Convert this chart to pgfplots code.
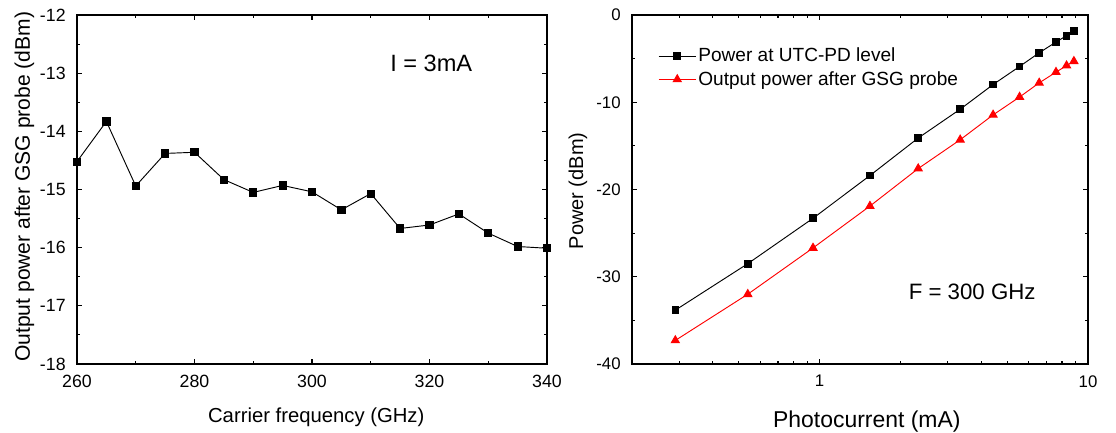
\documentclass[border=0pt]{standalone}
\usepackage{pgfplots}
\pgfplotsset{compat=1.18}
\usepackage{fontspec}
\setmainfont{Liberation Sans}
\definecolor{pred}{RGB}{255,0,0}
\begin{document}
\begin{tikzpicture}
\useasboundingbox (0,0) rectangle (837pt,324pt);
\pgfplotsset{
  common/.style={
    scale only axis,
    axis line style={line width=0.9pt},
    every tick/.style={black, line width=0.8pt},
    tick align=inside,
    major tick length=4pt, minor tick length=2.4pt,
    /pgf/number format/assume math mode=true,
    clip=false,
    xticklabel style={yshift=-5pt},
    yticklabel style={xshift=-5pt},
  }
}
\begin{axis}[common,
  at={(57.75pt,51pt)}, anchor=south west,
  width=352.5pt, height=261.75pt,
  xmin=260, xmax=340, ymin=-18, ymax=-12,
  xtick={260,280,...,340}, ytick={-18,-17,...,-12},
  minor x tick num=1, minor y tick num=1,
  tick label style={font=\fontsize{13.3}{14}\selectfont},
  xlabel={Carrier frequency (GHz)},
  xlabel style={font=\fontsize{15.2}{16}\selectfont, at={(axis description cs:0.509,-0.169)}, anchor=base},
  ylabel={Output power after GSG probe (dBm)},
  ylabel style={font=\fontsize{15.8}{16}\selectfont, at={(axis description cs:-0.1,0.508)}, anchor=base},
]
\addplot[black, line width=0.7pt, mark=square*, mark size=2.7pt] coordinates {
(260,-14.52) (265,-13.83) (270,-14.94) (275,-14.38) (280,-14.36) (285,-14.83)
(290,-15.05) (295,-14.93) (300,-15.04) (305,-15.35) (310,-15.07) (315,-15.67)
(320,-15.61) (325,-15.42) (330,-15.75) (335,-15.98) (340,-16.01)};
\node[font=\fontsize{17.7}{18}\selectfont] at (axis cs:320.3,-12.83) {I = 3mA};
\end{axis}
\begin{axis}[common,
  at={(474pt,51pt)}, anchor=south west,
  width=342pt, height=261.75pt,
  xmode=log, xmin=0.2, xmax=10, ymin=-40, ymax=0,
  xtick={1,10}, xticklabels={1,10},
  minor xtick={0.2,0.3,0.4,0.5,0.6,0.7,0.8,0.9,2,3,4,5,6,7,8,9},
  ytick={-40,-30,...,0}, minor y tick num=1,
  tick label style={font=\fontsize{12.6}{13}\selectfont},
  xlabel={Photocurrent (mA)},
  xlabel style={font=\fontsize{17.2}{18}\selectfont, at={(axis description cs:0.515,-0.181)}, anchor=base},
  ylabel={Power (dBm)},
  ylabel style={font=\fontsize{15}{16}\selectfont, at={(axis description cs:-0.107,0.496)}, anchor=base},
  legend style={at={(axis description cs:0.057,0.912)}, anchor=north west, draw=none, fill=none,
    font=\fontsize{14.3}{15}\selectfont, inner sep=0pt, row sep=2.5pt, nodes={inner sep=1.6pt}},
  legend cell align=left,
  legend image code/.code={\draw[mark repeat=2,mark phase=2] plot coordinates {(0pt,0pt)(13.9pt,0pt)(27.8pt,0pt)};},
]
\addplot[black, line width=0.7pt, mark=square*, mark size=2.5pt] coordinates {
(0.29,-33.83) (0.54,-28.5) (0.945,-23.3) (1.54,-18.4) (2.33,-14.1) (3.34,-10.8)
(4.43,-7.97) (5.56,-5.9) (6.58,-4.33) (7.6,-3.1) (8.32,-2.37) (8.86,-1.84)};
\addlegendentry{Power at UTC-PD level}
\addplot[pred, line width=0.7pt, mark=triangle*, mark size=3.5pt] coordinates {
(0.29,-37.3) (0.54,-32.0) (0.945,-26.7) (1.54,-21.9) (2.33,-17.6) (3.34,-14.3)
(4.43,-11.45) (5.56,-9.4) (6.58,-7.78) (7.6,-6.55) (8.32,-5.8) (8.86,-5.3)};
\addlegendentry{Output power after GSG probe}
\node[font=\fontsize{16.7}{17}\selectfont] at (axis description cs:0.746,0.206) {F = 300 GHz};
\end{axis}
\end{tikzpicture}
\end{document}
